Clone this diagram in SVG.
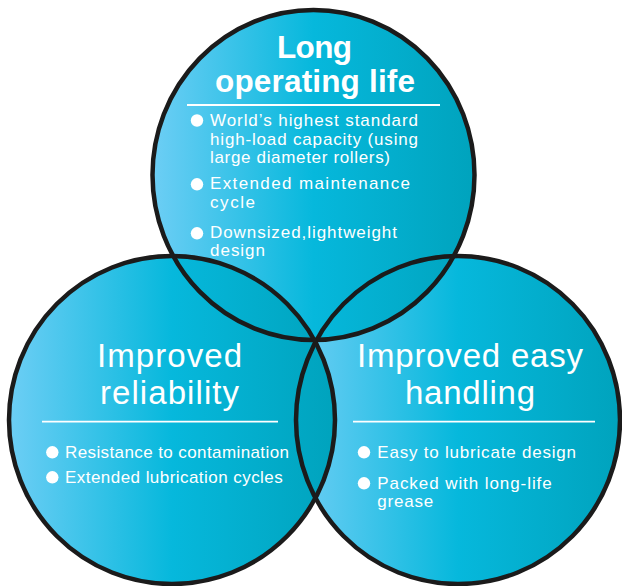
<svg xmlns="http://www.w3.org/2000/svg" xmlns:xlink="http://www.w3.org/1999/xlink" width="622" height="586" viewBox="0 0 622 586">
<style>
.fill{fill:url(#g)}
.ring{fill:none;stroke:#1b1b1b;stroke-width:4.5}
.title{font-family:"Liberation Sans",Arial,sans-serif;font-size:33px;fill:#fff;text-anchor:middle}
.tb{font-weight:bold;font-size:31.5px}
.item{font-family:"Liberation Sans",Arial,sans-serif;font-size:17px;fill:#fff}
.dot{fill:#fff}
.rule{stroke:#fff;stroke-width:1.8}
</style>
<defs>
<linearGradient id="g" x1="0" y1="0" x2="1" y2="0">
<stop offset="0" stop-color="#6dcef5"/>
<stop offset="0.5" stop-color="#06b8dc"/>
<stop offset="1" stop-color="#00a3bd"/>
</linearGradient>
<ellipse id="cT" cx="313.5" cy="175" rx="161" ry="165"/>
<ellipse id="cL" cx="172" cy="420" rx="163" ry="164"/>
<ellipse id="cR" cx="458" cy="420" rx="162" ry="164"/>
</defs>

<g id="node-right">
<use xlink:href="#cR" class="fill"/>
</g>
<g id="node-top">
<use xlink:href="#cT" class="fill"/>
</g>
<g id="node-left">
<use xlink:href="#cL" class="fill"/>
</g>

<g id="connectors">
<use xlink:href="#cR" class="ring"/>
<use xlink:href="#cT" class="ring"/>
<use xlink:href="#cL" class="ring"/>
</g>

<g id="node-top-text">
<text class="title tb" x="314.5" y="58" textLength="75" lengthAdjust="spacing">Long</text>
<text class="title tb" x="315" y="92" textLength="200" lengthAdjust="spacing">operating life</text>
<line class="rule" x1="187" y1="105" x2="440" y2="105"/>
<circle class="dot" cx="197" cy="120.5" r="6.2"/>
<text class="item" x="210" y="126" textLength="208" lengthAdjust="spacing">World’s highest standard</text>
<text class="item" x="210" y="144.5" textLength="208" lengthAdjust="spacing">high-load capacity (using</text>
<text class="item" x="210" y="163" textLength="180" lengthAdjust="spacing">large diameter rollers)</text>
<circle class="dot" cx="197" cy="184.3" r="6.2"/>
<text class="item" x="210" y="189.3" textLength="200" lengthAdjust="spacing">Extended maintenance</text>
<text class="item" x="210" y="207.8" textLength="45" lengthAdjust="spacing">cycle</text>
<circle class="dot" cx="197" cy="233.3" r="6.2"/>
<text class="item" x="210" y="237.5" textLength="187" lengthAdjust="spacing">Downsized,lightweight</text>
<text class="item" x="210" y="256" textLength="55" lengthAdjust="spacing">design</text>
</g>

<g id="node-left-text">
<text class="title" x="169.5" y="367" textLength="145" lengthAdjust="spacing">Improved</text>
<text class="title" x="169.5" y="404" textLength="139" lengthAdjust="spacing">reliability</text>
<line class="rule" x1="42" y1="421.7" x2="278" y2="421.7"/>
<circle class="dot" cx="52.3" cy="452.3" r="6.2"/>
<text class="item" x="65" y="458.3" textLength="224" lengthAdjust="spacing">Resistance to contamination</text>
<circle class="dot" cx="52.3" cy="477.3" r="6.2"/>
<text class="item" x="65" y="482.7" textLength="217.7" lengthAdjust="spacing">Extended lubrication cycles</text>
</g>

<g id="node-right-text">
<text class="title" x="470" y="367" textLength="226" lengthAdjust="spacing">Improved easy</text>
<text class="title" x="470" y="403.5" textLength="130" lengthAdjust="spacing">handling</text>
<line class="rule" x1="353" y1="421.7" x2="595" y2="421.7"/>
<circle class="dot" cx="364" cy="452.3" r="6.2"/>
<text class="item" x="377.3" y="458.3" textLength="198.7" lengthAdjust="spacing">Easy to lubricate design</text>
<circle class="dot" cx="364" cy="483.3" r="6.2"/>
<text class="item" x="377.3" y="488.8" textLength="174.4" lengthAdjust="spacing">Packed with long-life</text>
<text class="item" x="377.3" y="507.3" textLength="56" lengthAdjust="spacing">grease</text>
</g>
</svg>
